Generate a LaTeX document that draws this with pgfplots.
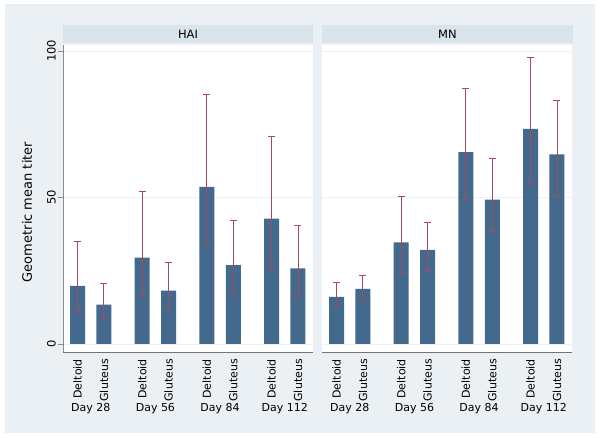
\documentclass[border=0pt]{standalone}
\usepackage{fontspec}
\setmainfont{DejaVu Sans}
\usepackage{pgfplots}
\usepackage{pgfplotstable}
\pgfplotsset{compat=1.18}
\definecolor{bgc}{HTML}{EAF0F3}
\definecolor{stripc}{HTML}{D9E4EB}
\definecolor{barc}{HTML}{43698D}
\definecolor{errc}{HTML}{A94A5C}
\definecolor{gridc}{HTML}{EDF1F3}

\pgfplotstableread{
x     y     ep    em
0     19.8  15.1  8.8
1     13.4  7.2   4.6
2.45  29.5  22.5  13.0
3.45  18.2  9.5   6.4
4.9   53.6  31.6  20.0
5.9   26.9  15.2  9.6
7.35  42.8  28.0  17.2
8.35  25.8  14.5  9.7
}\hai
\pgfplotstableread{
x     y     ep    em
0     16.1  4.9   3.6
1     18.8  4.5   3.8
2.45  34.7  15.6  10.6
3.45  32.1  9.3   7.2
4.9   65.5  21.6  16.1
5.9   49.3  14.1  11.0
7.35  73.4  24.4  18.3
8.35  64.7  18.3  14.2
}\mn

\pgfplotsset{panel/.style={
  scale only axis, width=250pt, height=307pt, anchor=south west,
  xmin=-0.55, xmax=8.92, ymin=-2.73, ymax=102.05,
  axis background/.style={fill=white},
  axis x line*=bottom, axis y line*=left,
  x axis line style={draw=black!55, line width=0.8pt},
  y axis line style={draw=black!45, line width=0.8pt},
  xtick={0,1,2.45,3.45,4.9,5.9,7.35,8.35},
  xticklabels={Deltoid,Gluteus,Deltoid,Gluteus,Deltoid,Gluteus,Deltoid,Gluteus},
  xticklabel style={rotate=90, anchor=east, font=\fontsize{11}{13}\selectfont, inner sep=2pt},
  major x tick style={draw=none},
  ytick={0,50,100}, ymajorgrids, grid style={draw=gridc, line width=0.8pt},
  yticklabel style={rotate=90, anchor=south, font=\fontsize{11.5}{13}\selectfont, inner sep=2pt},
  /pgf/number format/assume math mode=true,
  major y tick style={draw=black!45, line width=0.8pt},
  tick align=outside, major tick length=5pt,
  bar width=15pt,
  clip=false,
}}
\pgfplotsset{errplot/.style={draw=none, mark=none,
  error bars/.cd, y dir=both, y explicit,
  error bar style={draw=errc, line width=0.9pt},
  error mark options={draw=errc, rotate=90, mark size=3.5pt, line width=0.9pt}}}

\begin{document}
\begin{tikzpicture}
\fill[white] (0pt,0pt) rectangle (600pt,438pt);
\fill[bgc] (5pt,5pt) rectangle (595pt,434pt);
\fill[stripc] (63pt,395pt) rectangle (313pt,413pt);
\fill[stripc] (322pt,395pt) rectangle (573pt,413pt);
\node[font=\fontsize{11.5}{13}\selectfont] at (188pt,404pt) {HAI};
\node[font=\fontsize{11.5}{13}\selectfont] at (447.5pt,404pt) {MN};
\node[rotate=90, font=\fontsize{13}{15}\selectfont] at (27pt,226pt) {Geometric mean titer};

\begin{axis}[panel, at={(63pt,86pt)}]
\addplot[ybar, fill=barc, draw=none] table[x=x, y=y] {\hai};
\addplot[errplot] table[x=x, y=y, y error plus=ep, y error minus=em] {\hai};
\node[font=\fontsize{11}{13}\selectfont] at (axis cs:0.5,-2.73) [yshift=-57pt] {Day 28};
\node[font=\fontsize{11}{13}\selectfont] at (axis cs:2.95,-2.73) [yshift=-57pt] {Day 56};
\node[font=\fontsize{11}{13}\selectfont] at (axis cs:5.4,-2.73) [yshift=-57pt] {Day 84};
\node[font=\fontsize{11}{13}\selectfont] at (axis cs:7.85,-2.73) [yshift=-57pt] {Day 112};
\end{axis}

\begin{axis}[panel, at={(322pt,86pt)},
  y axis line style={draw=none}, major y tick style={draw=none}, yticklabels={}]
\addplot[ybar, fill=barc, draw=none] table[x=x, y=y] {\mn};
\addplot[errplot] table[x=x, y=y, y error plus=ep, y error minus=em] {\mn};
\node[font=\fontsize{11}{13}\selectfont] at (axis cs:0.5,-2.73) [yshift=-57pt] {Day 28};
\node[font=\fontsize{11}{13}\selectfont] at (axis cs:2.95,-2.73) [yshift=-57pt] {Day 56};
\node[font=\fontsize{11}{13}\selectfont] at (axis cs:5.4,-2.73) [yshift=-57pt] {Day 84};
\node[font=\fontsize{11}{13}\selectfont] at (axis cs:7.85,-2.73) [yshift=-57pt] {Day 112};
\end{axis}
\pgfresetboundingbox
\path (0pt,0pt) rectangle (600pt,438pt);
\end{tikzpicture}
\end{document}
